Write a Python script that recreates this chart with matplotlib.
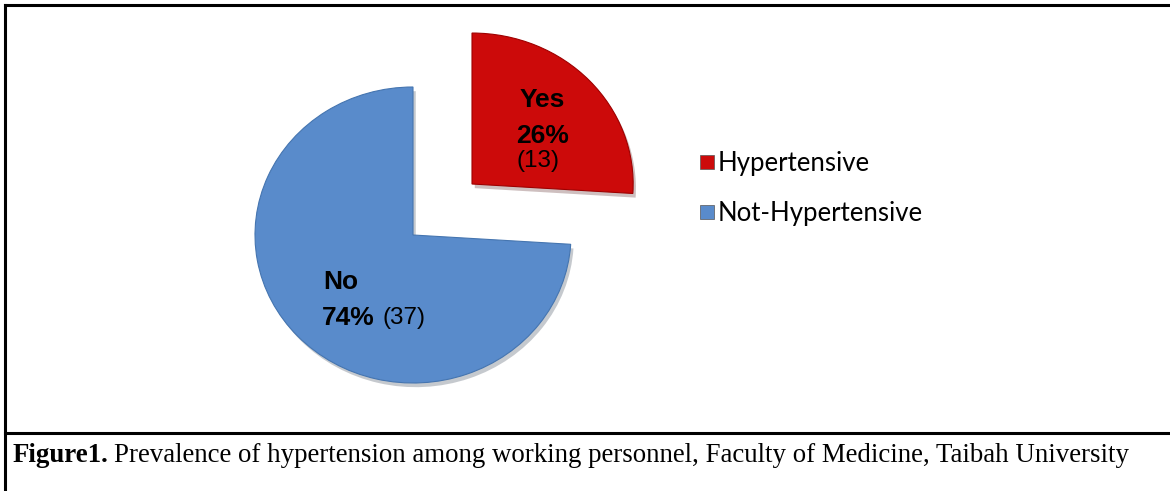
import matplotlib.pyplot as plt
from matplotlib import patheffects as pe
from matplotlib.lines import Line2D

labels = ['Hypertensive', 'Not-Hypertensive']
short = ['Yes', 'No']
counts = [13, 37]
colors = ['#CC0A0A', '#598BCB']

W, H = 1170, 491
fig = plt.figure(figsize=(W / 100, H / 100), dpi=100)

# pie axes, placed in pixels so the ellipse looks like the tilted 3D pie
rx, ry = 158, 148
cx, cy = 413, 235
x0, x1, ytop, ybot = 200, 700, 20, 420
ax = fig.add_axes([x0 / W, (H - ybot) / H, (x1 - x0) / W, (ybot - ytop) / H])

wedges, _ = ax.pie(counts, colors=colors, startangle=90, counterclock=False,
                   frame=True, wedgeprops=dict(linewidth=0.8))
ax.set_xlim(-(cx - x0) / rx, (x1 - cx) / rx)
ax.set_ylim(-(ybot - cy) / ry, (cy - ytop) / ry)
ax.set_aspect('auto')
ax.axis('off')

# pull the red slice out (up and to the right)
wedges[0].set_center((59 / rx, 51 / ry))
wedges[0].set_radius(1.02)
wedges[0].set_edgecolor('#9E0000')
wedges[1].set_edgecolor('#4575B0')
for w in wedges:
    w.set_path_effects([pe.SimplePatchShadow(offset=(2, -3), alpha=0.25),
                        pe.Normal()])

total = sum(counts)
pct = [round(100 * c / total) for c in counts]

lab = dict(family='Liberation Sans', va='center')
ax.text(0.82, 0.91, short[0], ha='center', fontsize=19, fontweight='bold', **lab)
ax.text(0.82, 0.67, f'{pct[0]}%', ha='center', fontsize=19, fontweight='bold', **lab)
ax.text(0.79, 0.50, f'({counts[0]})', ha='center', fontsize=17.5, **lab)
ax.text(-0.46, -0.32, short[1], ha='center', fontsize=19, fontweight='bold', **lab)
ax.text(-0.24, -0.56, f'{pct[1]}%', ha='right', fontsize=19, fontweight='bold', **lab)
ax.text(-0.19, -0.56, f'({counts[1]})', ha='left', fontsize=17.5, **lab)

# legend
handles = [Line2D([], [], marker='s', ls='', markersize=9.5, markerfacecolor=c,
                  markeredgecolor='#555555', markeredgewidth=0.5) for c in colors]
fig.legend(handles, labels, loc='upper left', bbox_to_anchor=(677 / W, 1 - 128 / H),
           frameon=False, handletextpad=0.2, handlelength=0.5, labelspacing=0.95,
           prop={'family': 'Lato', 'size': 18.5})

# frame lines
fig.add_artist(Line2D([5 / W, 1], [1 - 5 / H, 1 - 5 / H], color='black', lw=2.2))
fig.add_artist(Line2D([5 / W, 5 / W], [0, 1 - 5 / H], color='black', lw=2.2))
fig.add_artist(Line2D([5 / W, 1], [1 - 433 / H, 1 - 433 / H], color='black', lw=2.2))

# caption
t1 = fig.text(13 / W, 1 - 455 / H, 'Figure1.', fontsize=19.4, fontweight='bold',
              family='Liberation Serif', va='center', ha='left')
fig.canvas.draw()
bb = t1.get_window_extent()
fig.text(bb.x1 / W + 5 / W, 1 - 455 / H,
         'Prevalence of hypertension among working personnel, Faculty of Medicine, Taibah University',
         fontsize=19.4, family='Liberation Serif', va='center', ha='left')

fig.savefig('out.png', dpi=100)
